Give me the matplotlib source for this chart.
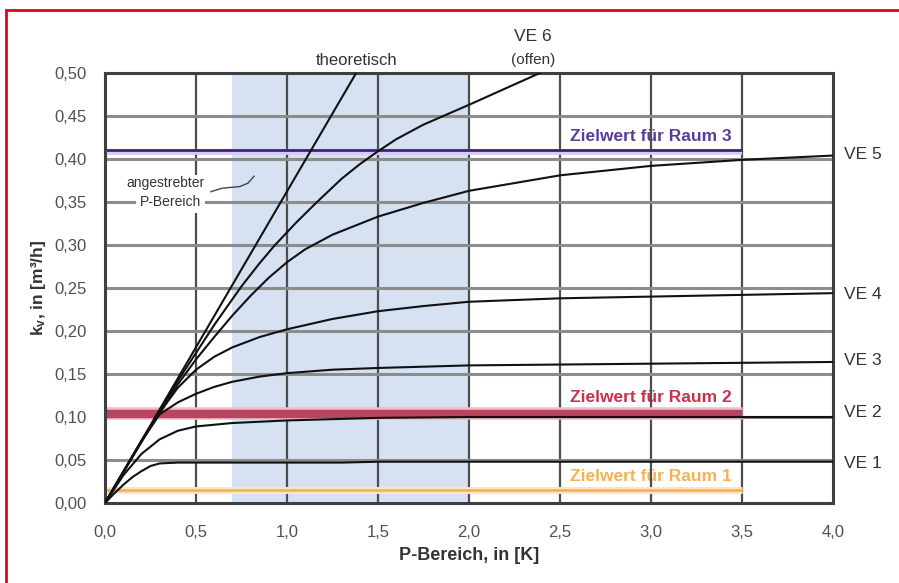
import matplotlib
matplotlib.use("Agg")
import matplotlib.pyplot as plt
from matplotlib.patches import Rectangle

plt.rcParams['font.family'] = ['Liberation Sans', 'DejaVu Sans']
plt.rcParams['mathtext.fontset'] = 'custom'
plt.rcParams['mathtext.rm'] = 'Liberation Sans'
plt.rcParams['mathtext.bf'] = 'Liberation Sans:bold'
plt.rcParams['mathtext.default'] = 'bf'

# kv curves of the valve inserts over the P-band
ve1_x = [0, 0.05, 0.1, 0.15, 0.2, 0.25, 0.3, 0.4, 1.0, 1.3, 1.5, 2.0, 3.0, 4.0]
ve1_y = [0, 0.011, 0.021, 0.030, 0.037, 0.043, 0.046, 0.047, 0.047, 0.047, 0.048, 0.048, 0.048, 0.048]

ve2_x = [0, 0.1, 0.2, 0.3, 0.4, 0.5, 0.7, 1.0, 1.5, 2.0, 3.0, 4.0]
ve2_y = [0, 0.032, 0.057, 0.074, 0.084, 0.089, 0.093, 0.096, 0.099, 0.100, 0.100, 0.100]

ve3_x = [0, 0.1, 0.2, 0.3, 0.4, 0.5, 0.6, 0.7, 0.85, 1.0, 1.25, 1.5, 2.0, 2.5, 3.0, 3.5, 4.0]
ve3_y = [0, 0.036, 0.072, 0.103, 0.117, 0.127, 0.135, 0.141, 0.147, 0.151, 0.155, 0.157, 0.160, 0.161, 0.162, 0.163, 0.164]

ve4_x = [0, 0.1, 0.2, 0.3, 0.4, 0.5, 0.6, 0.7, 0.85, 1.0, 1.25, 1.5, 1.75, 2.0, 2.5, 3.0, 3.5, 4.0]
ve4_y = [0, 0.036, 0.072, 0.105, 0.134, 0.155, 0.170, 0.181, 0.193, 0.202, 0.214, 0.223, 0.229, 0.234, 0.238, 0.240, 0.242, 0.244]

ve5_x = [0, 0.2, 0.4, 0.5, 0.6, 0.7, 0.8, 0.9, 1.0, 1.1, 1.25, 1.5, 1.75, 2.0, 2.5, 3.0, 3.5, 4.0]
ve5_y = [0, 0.071, 0.138, 0.167, 0.193, 0.218, 0.241, 0.262, 0.280, 0.295, 0.312, 0.333, 0.349, 0.363, 0.381, 0.392, 0.399, 0.404]

ve6_x = [0, 0.2, 0.4, 0.6, 0.75, 0.85, 0.93, 1.05, 1.16, 1.3, 1.4, 1.5, 1.6, 1.75, 2.0, 2.2, 2.39]
ve6_y = [0, 0.071, 0.142, 0.207, 0.252, 0.279, 0.299, 0.326, 0.349, 0.377, 0.394, 0.409, 0.423, 0.440, 0.463, 0.482, 0.500]

theo_x = [0, 1.38]
theo_y = [0, 0.50]

# target values per room
target_x = [0, 3.5]
raum1 = 0.015
raum2 = 0.104
raum3 = 0.410

band_start, band_end = 0.7, 2.0

x_ticks = [0, 0.5, 1.0, 1.5, 2.0, 2.5, 3.0, 3.5, 4.0]
y_ticks = [0, 0.05, 0.10, 0.15, 0.20, 0.25, 0.30, 0.35, 0.40, 0.45, 0.50]

ve_names = ["VE 1", "VE 2", "VE 3", "VE 4", "VE 5"]
ve_label_y = [0.0465, 0.105, 0.166, 0.242, 0.405]

# leader line for the P-band note
leader_x = [0.582, 0.643, 0.742, 0.786, 0.819]
leader_y = [0.362, 0.366, 0.368, 0.372, 0.380]

fig = plt.figure(figsize=(8.99, 5.83), dpi=100)
ax = fig.add_axes([105/899, 80/583, 728/899, 430/583])

ax.axvspan(band_start, band_end, color='#d6e1f2', lw=0, zorder=0)

ax.set_xlim(0, 4.0)
ax.set_ylim(0, 0.5)
ax.set_xticks(x_ticks)
ax.set_yticks(y_ticks)
ax.set_xticklabels([f"{v:.1f}".replace('.', ',') for v in x_ticks])
ax.set_yticklabels([f"{v:.2f}".replace('.', ',') for v in y_ticks])
ax.tick_params(length=0, labelsize=12, labelcolor='#505050', pad=13)
ax.tick_params(axis='x', pad=16)

for v in x_ticks[1:-1]:
    ax.axvline(v, color='#4d4d4d', lw=1.6, zorder=1.5)
for v in y_ticks[1:-1]:
    ax.axhline(v, color='#8c8c8c', lw=2.2, zorder=1.5)
for s in ax.spines.values():
    s.set_color('#3f3f3f')
    s.set_linewidth(2.2)

# target lines
ax.plot(target_x, [raum1, raum1], color='#fbe6c0', lw=5, solid_capstyle='butt', zorder=2)
ax.plot(target_x, [raum1, raum1], color='#f0b04a', lw=1.8, solid_capstyle='butt', zorder=2)
ax.plot(target_x, [raum2 + 0.001, raum2 + 0.001], color='#f4b8c6', lw=9, solid_capstyle='butt', zorder=2)
ax.plot(target_x, [raum2, raum2], color='#b8445f', lw=6, solid_capstyle='butt', zorder=2)
ax.plot(target_x, [raum3 - 0.002, raum3 - 0.002], color='#d6c9f4', lw=4, solid_capstyle='butt', zorder=2)
ax.plot(target_x, [raum3, raum3], color='#3c2478', lw=2, solid_capstyle='butt', zorder=2)

curves = [(ve1_x, ve1_y), (ve2_x, ve2_y), (ve3_x, ve3_y), (ve4_x, ve4_y),
          (ve5_x, ve5_y), (ve6_x, ve6_y), (theo_x, theo_y)]
for cx, cy in curves:
    ax.plot(cx, cy, color='#111111', lw=1.5, zorder=3, solid_joinstyle='round')

ax.text(3.0, 0.426, "Zielwert für Raum 3", color='#5a3d9c', fontsize=12.5,
        fontweight='bold', ha='center', va='center', zorder=1)
ax.text(3.0, 0.123, "Zielwert für Raum 2", color='#c8324f', fontsize=12.5,
        fontweight='bold', ha='center', va='center', zorder=1)
ax.text(3.0, 0.031, "Zielwert für Raum 1", color='#f2b257', fontsize=12.5,
        fontweight='bold', ha='center', va='center', zorder=1)

for name, yy in zip(ve_names, ve_label_y):
    ax.text(4.06, yy, name, fontsize=12.5, color='#333333', ha='left', va='center', clip_on=False)

ax.text(1.38, 0.515, "theoretisch", fontsize=12, color='#333333', ha='center', va='center', clip_on=False)
ax.text(2.35, 0.542, "VE 6", fontsize=12.5, color='#333333', ha='center', va='center', clip_on=False)
ax.text(2.35, 0.515, "(offen)", fontsize=11, color='#333333', ha='center', va='center', clip_on=False)

ax.text(0.33, 0.372, "angestrebter", fontsize=10, color='#333333', ha='center', va='center',
        zorder=2.2, bbox=dict(facecolor='white', edgecolor='none', pad=1))
ax.text(0.36, 0.350, "P-Bereich", fontsize=10, color='#333333', ha='center', va='center',
        zorder=2.2, bbox=dict(facecolor='white', edgecolor='none', pad=3))
ax.plot(leader_x, leader_y, color='#444444', lw=1, zorder=2.3)

fig.text(38/899, 1 - 288/583, "k$_{v}$, in [m³/h]", rotation=90, fontsize=12.5,
         fontweight='bold', color='#333333', ha='center', va='center')
fig.text(469/899, 1 - 555/583, "P-Bereich, in [K]", fontsize=13,
         fontweight='bold', color='#333333', ha='center', va='center')

# red frame, only left and top edge fall inside the picture
fig.patches.append(Rectangle((6/899, -0.1), 1.2, (573/583) + 0.1, fill=False,
                             edgecolor='#e2001a', lw=2, transform=fig.transFigure))

fig.savefig("out.png", dpi=100)
